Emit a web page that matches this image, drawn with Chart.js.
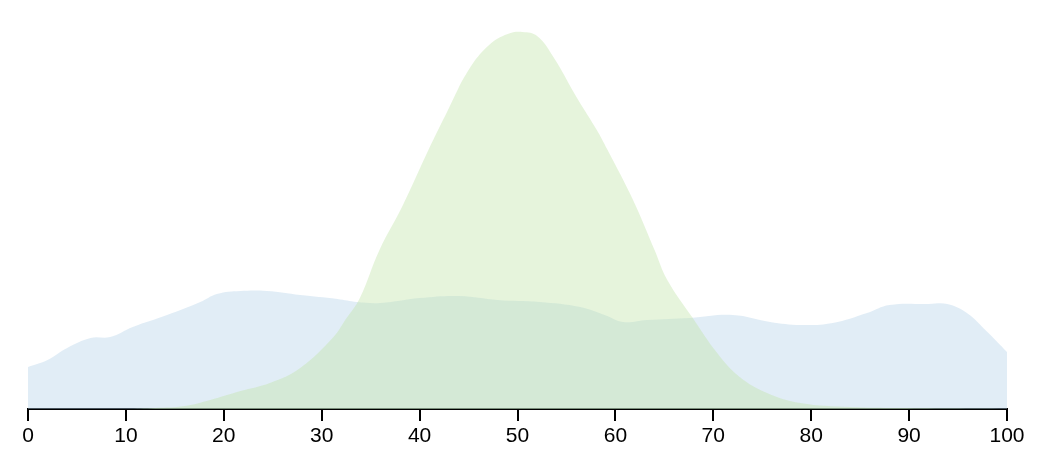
<!DOCTYPE html>
<html>
<head>
<meta charset="utf-8">
<script src="https://cdn.jsdelivr.net/npm/chart.js@4"></script>
<style>
  html, body { margin: 0; padding: 0; background: #fff; }
</style>
</head>
<body>
<canvas id="chart" width="1056" height="470"></canvas>
<script>
// x ticks
const tickValues = [0, 10, 20, 30, 40, 50, 60, 70, 80, 90, 100];

// green series (density)
const greenX = [0, 10, 13, 16, 18.6, 21.7, 24.7, 27.8, 31.2, 32.4, 33.9, 35.9, 38.3, 40.9, 42.9, 45, 47.1, 49, 50.5, 52, 53.6, 56.2, 58.1, 59.2, 61.8, 64, 65.3, 67.9, 70.4, 72.7, 75.5, 78.9, 84, 89, 100];
const greenY = [0, 0, 0.0001, 0.0003, 0.0009, 0.0018, 0.0026, 0.0041, 0.0072, 0.0089, 0.0111, 0.0159, 0.0204, 0.0259, 0.0299, 0.0339, 0.0364, 0.0375, 0.0377, 0.0373, 0.0353, 0.0309, 0.0279, 0.0259, 0.0209, 0.0159, 0.0129, 0.0091, 0.0056, 0.0032, 0.0016, 0.0006, 0.0002, 0.0001, 0];

// blue series (density)
const blueX = [0, 2, 4, 6.4, 8.4, 10.7, 14.2, 17.6, 19.3, 21.7, 24.4, 27.8, 31.6, 33.6, 36, 40, 44.1, 48, 52.3, 56.4, 58.9, 60.8, 63.2, 67.6, 72, 75.8, 78.9, 82.2, 85.7, 88, 92, 93.9, 95.9, 98, 100];
const blueY = [0.0042, 0.0049, 0.0061, 0.0071, 0.0072, 0.0082, 0.0094, 0.0107, 0.0115, 0.0118, 0.0118, 0.0114, 0.0110, 0.0107, 0.0106, 0.0111, 0.0113, 0.0109, 0.0107, 0.0102, 0.0094, 0.0087, 0.0089, 0.0091, 0.0094, 0.0087, 0.0084, 0.0086, 0.0096, 0.0104, 0.0105, 0.0105, 0.0096, 0.0077, 0.0057];

const toPoints = (xs, ys) => xs.map((x, i) => ({ x: x, y: ys[i] }));

new Chart(document.getElementById('chart'), {
  type: 'line',
  data: {
    datasets: [
      {
        label: 'green',
        data: toPoints(greenX, greenY),
        fill: 'origin',
        backgroundColor: 'rgba(192, 228, 168, 0.4)',
        borderWidth: 0,
        pointRadius: 0,
        tension: 0.4
      },
      {
        label: 'blue',
        data: toPoints(blueX, blueY),
        fill: 'origin',
        backgroundColor: 'rgba(180, 210, 233, 0.4)',
        borderWidth: 0,
        pointRadius: 0,
        tension: 0.4
      }
    ]
  },
  options: {
    responsive: false,
    animation: false,
    devicePixelRatio: 1,
    layout: { padding: { left: 28, right: 49, top: 9, bottom: 0 } },
    plugins: { legend: { display: false }, tooltip: { enabled: false } },
    scales: {
      x: {
        type: 'linear',
        min: 0,
        max: 100,
        afterBuildTicks: (scale) => { scale.ticks = tickValues.map(v => ({ value: v })); },
        afterFit: (scale) => { scale.height = 61; },
        grid: { drawOnChartArea: false, drawTicks: true, tickLength: 12, color: '#000', lineWidth: 2 },
        border: { display: true, color: '#000', width: 2 },
        ticks: { color: '#000', padding: 3, maxRotation: 0, font: { family: '"Liberation Sans", Arial, sans-serif', size: 21 } }
      },
      y: {
        display: false,
        min: 0,
        max: 0.04
      }
    }
  }
});
</script>
</body>
</html>
